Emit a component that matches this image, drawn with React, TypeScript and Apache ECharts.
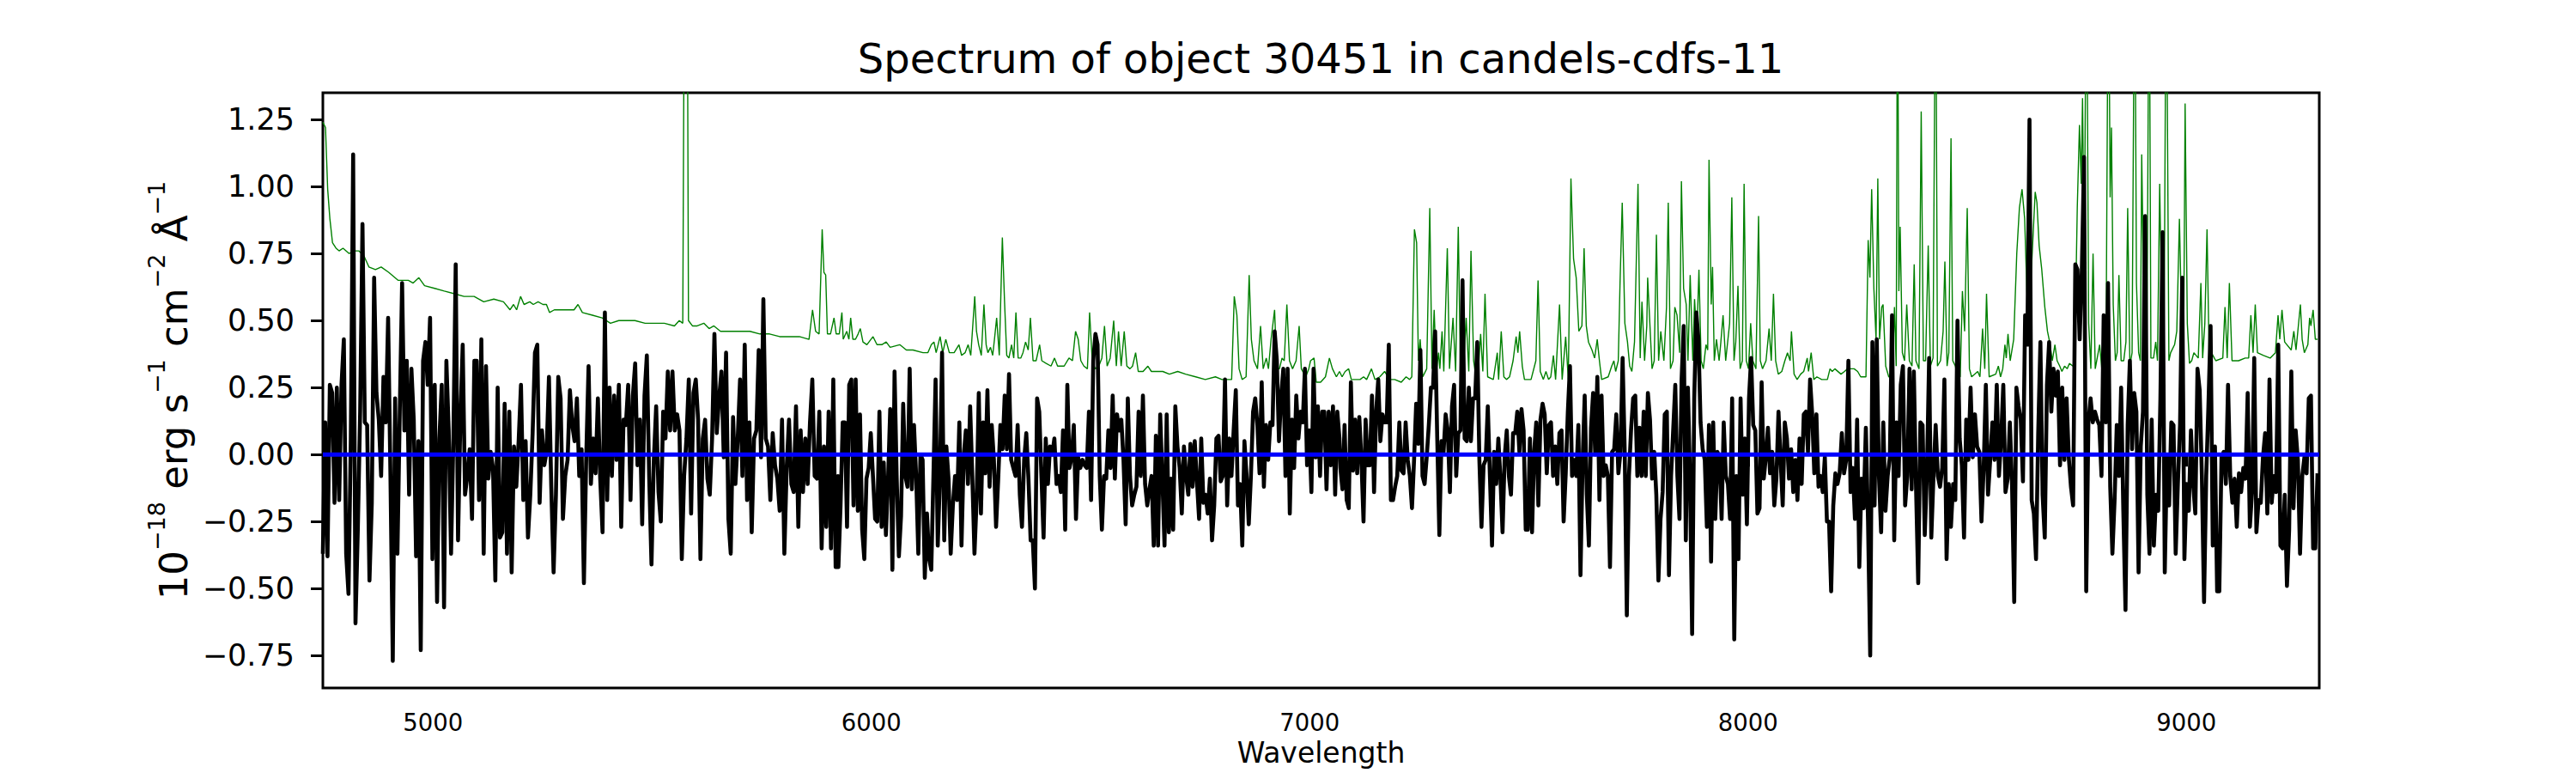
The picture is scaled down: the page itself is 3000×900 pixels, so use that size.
import React, { useEffect, useRef } from "react";
import * as echarts from "echarts";

const TITLE = "Spectrum of object 30451 in candels-cdfs-11";
const X_NAME = "Wavelength";
const X_MIN = 4749;
const X_MAX = 9303;
const Y_MIN = -0.871;
const Y_MAX = 1.35;
const X_TICKS = [5000, 6000, 7000, 8000, 9000];
const Y_TICKS = [-0.75, -0.5, -0.25, 0, 0.25, 0.5, 0.75, 1.0, 1.25];

// observed flux, four consecutive wavelength stretches
const fluxRangeA = [4749, 5924];
const fluxA = [-0.37,0.12,-0.38,0.26,0.23,-0.18,0.25,-0.17,0.26,0.43,-0.37,-0.52,0.06,1.12,-0.63,-0.28,0.16,0.86,0.12,0.11,-0.47,-0.18,0.66,0.23,0.13,-0.08,0.29,0.12,0.51,-0.08,-0.77,0.21,-0.37,0.16,0.64,0.09,0.35,-0.15,0.32,0.13,-0.38,0.05,-0.73,0.35,0.42,0.26,0.51,-0.39,0.26,-0.55,0.06,0.26,-0.57,0.35,0.09,-0.37,0.06,0.71,-0.32,0.13,0.41,-0.15,-0.08,0.02,-0.24,0.35,0.35,-0.17,0.43,-0.37,0.33,-0.09,0.01,-0.05,-0.47,0.25,-0.31,-0.29,0.19,-0.37,0.16,-0.44,0.03,-0.12,0.05,0.26,-0.17,0.05,-0.31,-0.15,0.08,0.38,0.41,-0.18,0.09,-0.04,0.01,0.29,-0.12,-0.44,-0.15,0.29,0.21,-0.24,-0.08,-0.02,0.24,0.11,0.05,0.21,-0.08,0.02,-0.48,-0.01,0.33,-0.11,0.06,-0.07,0.21,-0.09,-0.29,0.53,-0.17,0.25,-0.08,0.22,-0.02,0.26,-0.27,0.13,0.11,0.26,-0.17,0.22,0.34,-0.04,0.13,-0.26,0.22,0.37,-0.08,-0.41,-0.02,0.18,-0.14,-0.25,0.16,0.06,0.31,0.09,0.31,0.09,0.15,0.09,-0.39,-0.08,0.06,0.28,-0.22,0.23,0.28,0.13,-0.39,0.06,0.13,-0.09,-0.15,0.06,0.45,0.08,0.21,0.31,-0.01,0.38,-0.24,-0.37,0.14,-0.11,0.06,0.28,-0.08,0.41,-0.17,0.12,-0.29,0.06,0.09,0.39,-0.01,0.58,0.06,0.03,-0.17,0.08,-0.04,-0.09,-0.21,0.13,-0.37,-0.05,0.13,-0.11,-0.14,0.18,-0.27,0.09,-0.14,0.06,-0.11,0.12,0.28,-0.08,-0.09,0.16,-0.35,0.03,-0.27,0.16,-0.35,0.28,-0.42,-0.08];
const fluxRangeB = [5925, 7068];
const fluxB = [-0.42,-0.19,0.12,0.12,-0.27,0.26,0.28,-0.19,0.28,-0.21,0.15,-0.28,-0.39,-0.09,-0.05,0.08,-0.08,-0.24,-0.25,0.16,-0.27,-0.03,-0.30,-0.09,0.17,-0.43,0.31,-0.09,-0.38,-0.23,0.19,-0.08,-0.12,0.32,-0.13,0.11,-0.08,-0.37,0.00,-0.02,-0.46,-0.22,-0.39,-0.43,-0.08,0.28,-0.34,-0.09,0.38,-0.32,0.03,-0.09,-0.37,-0.19,-0.08,-0.17,0.12,-0.34,-0.01,0.09,-0.11,0.18,-0.08,-0.37,-0.17,0.23,-0.22,0.12,-0.07,0.24,-0.12,0.11,-0.02,-0.27,-0.09,0.11,0.02,0.22,0.02,0.30,-0.02,-0.05,-0.08,0.11,-0.15,-0.27,-0.02,0.08,-0.09,-0.32,-0.32,-0.50,0.21,0.16,-0.08,-0.31,0.06,-0.11,0.03,0.00,0.06,-0.11,-0.08,-0.14,0.09,-0.28,0.26,-0.05,-0.01,0.11,-0.24,-0.01,-0.05,-0.02,-0.04,-0.05,0.16,-0.17,0.35,0.45,0.41,-0.08,-0.28,-0.08,-0.09,0.09,-0.05,0.22,-0.09,0.15,0.09,0.13,-0.02,-0.26,0.21,-0.08,-0.19,-0.15,-0.12,0.16,-0.08,0.22,-0.11,-0.19,-0.13,-0.08,-0.34,0.07,-0.34,0.15,-0.09,-0.34,0.15,-0.29,-0.09,-0.28,0.18,0.03,-0.05,-0.22,0.03,-0.08,-0.15,0.04,-0.12,0.05,-0.10,-0.24,0.06,-0.18,-0.15,-0.22,-0.09,-0.32,-0.19,0.06,0.07,-0.10,-0.08,0.28,-0.19,0.06,-0.08,0.09,0.24,-0.19,-0.11,-0.34,0.05,-0.08,-0.26,-0.08,0.16,0.21,0.11,-0.07,0.27,-0.12,0.11,-0.02,0.12,0.11,0.46,0.35,0.05,0.22,0.32,-0.08,0.32,-0.22,0.13,-0.05,0.22,0.06,0.16,0.12,0.32,-0.04,0.09,-0.14,0.32,-0.01,0.18,-0.08,0.16,0.16,-0.13,0.16,-0.04,0.18,-0.15,0.16,0.06];
const fluxRangeC = [7070, 8204];
const fluxC = [-0.05,-0.13,0.11,-0.17,-0.20,0.27,-0.06,0.13,-0.07,0.14,-0.02,-0.25,0.13,-0.04,-0.04,0.22,-0.14,0.16,0.28,0.05,0.15,0.12,0.12,0.41,-0.17,-0.17,-0.12,-0.08,0.12,-0.06,-0.07,0.12,-0.02,-0.08,-0.20,-0.02,0.19,0.04,0.39,-0.08,-0.11,-0.01,0.11,0.25,0.25,0.46,0.06,-0.30,0.05,0.01,0.15,0.09,-0.14,0.18,0.26,-0.08,0.08,0.09,0.65,0.06,0.05,0.25,0.05,0.21,0.21,0.42,-0.02,-0.27,-0.04,-0.02,0.18,-0.08,-0.34,0.01,-0.11,0.06,-0.09,-0.29,-0.01,0.09,-0.08,-0.15,0.08,0.08,0.16,0.01,0.17,0.09,-0.28,-0.28,0.06,-0.29,0.01,0.12,-0.19,0.13,0.19,0.15,-0.07,0.11,0.12,-0.08,0.03,-0.11,0.08,0.09,-0.25,-0.07,0.16,0.33,-0.08,-0.02,-0.08,0.11,-0.45,-0.03,0.22,-0.15,-0.34,0.10,0.23,0.00,0.29,-0.17,0.22,-0.08,-0.04,-0.08,-0.42,0.01,0.02,0.15,-0.07,0.01,0.36,0.01,-0.60,-0.08,0.09,0.21,0.22,-0.08,0.10,-0.08,0.16,-0.08,0.23,0.13,-0.09,0.01,-0.15,-0.47,-0.24,-0.14,0.15,0.16,-0.45,-0.08,0.09,0.26,-0.08,-0.24,0.28,0.48,-0.32,0.25,-0.09,-0.67,0.21,0.53,0.43,0.12,0.02,-0.02,-0.27,0.11,-0.40,0.12,-0.24,0.01,-0.01,-0.24,0.12,-0.08,-0.11,-0.24,0.21,-0.69,-0.08,-0.39,0.21,-0.15,0.06,-0.26,0.21,0.36,0.11,0.09,-0.22,-0.20,0.27,-0.09,-0.01,0.10,-0.07,0.01,-0.19,-0.09,0.16,-0.02,-0.19,0.12,0.06,-0.09,0.02,-0.14,-0.02,-0.17,0.06,-0.11,0.15,0.16,0.01,0.28,0.15,-0.07,0.15,-0.12,-0.08,-0.14,-0.01,-0.25,-0.25,-0.51,-0.19,-0.07,-0.11];
const fluxRangeD = [8209, 9299];
const fluxD = [-0.07,0.08,-0.07,-0.02,0.35,-0.14,-0.05,-0.24,0.13,-0.42,-0.09,-0.20,0.10,-0.25,-0.75,0.42,-0.19,0.43,-0.08,-0.29,0.12,-0.21,-0.08,-0.01,0.52,-0.32,0.12,-0.08,0.26,0.33,-0.19,-0.08,0.32,-0.13,0.31,-0.12,-0.48,0.12,0.11,-0.30,-0.07,0.36,-0.31,-0.08,0.11,-0.08,-0.12,-0.05,0.28,-0.39,-0.11,-0.27,-0.11,-0.17,0.50,0.06,-0.04,-0.31,0.13,-0.02,0.25,-0.01,0.15,0.03,0.01,-0.25,-0.05,0.26,-0.15,-0.02,0.12,-0.02,0.26,-0.08,0.06,0.26,-0.14,-0.09,0.12,-0.11,-0.55,0.25,0.18,0.13,-0.10,0.52,0.41,1.25,-0.17,-0.22,-0.39,0.08,0.42,-0.15,-0.31,0.26,0.42,0.16,0.32,0.22,0.31,-0.04,0.25,-0.02,0.21,-0.01,-0.12,-0.19,0.71,0.69,0.43,0.69,1.11,-0.51,0.12,0.21,0.12,0.16,0.13,0.11,-0.08,0.52,0.12,0.64,-0.12,-0.37,-0.17,0.11,-0.08,0.25,-0.21,-0.58,0.11,0.35,0.02,0.23,0.16,-0.44,0.03,0.16,0.89,-0.15,-0.37,0.13,-0.34,-0.15,-0.21,0.21,0.83,-0.44,-0.01,-0.19,0.12,0.11,-0.37,-0.11,0.11,0.66,-0.39,-0.11,-0.21,0.09,-0.11,-0.22,0.32,0.24,-0.08,-0.55,-0.08,0.18,0.48,-0.34,0.03,-0.51,-0.51,-0.01,0.01,-0.11,0.26,-0.08,-0.18,-0.09,-0.27,-0.07,-0.14,-0.05,-0.09,0.23,-0.27,-0.14,0.36,-0.29,-0.17,-0.18,-0.01,0.08,-0.22,0.28,-0.18,-0.08,-0.14,0.41,-0.34,-0.35,-0.15,-0.49,-0.28,0.31,-0.20,0.09,-0.02,-0.37,-0.08,-0.01,-0.07,0.21,0.22,-0.35,-0.35,-0.07];

// noise / sky spectrum (green), [wavelength, value]
const noiseA = [[4749,1.24],[4755,1.22],[4760,0.99],[4765,0.88],[4771,0.79],[4779,0.77],[4786,0.76],[4795,0.77],[4809,0.75],[4820,0.76],[4831,0.76],[4843,0.74],[4854,0.70],[4869,0.69],[4882,0.70],[4899,0.68],[4921,0.65],[4944,0.65],[4955,0.64],[4968,0.66],[4981,0.63],[5004,0.62],[5026,0.61],[5049,0.60],[5071,0.59],[5094,0.59],[5116,0.57],[5139,0.58],[5161,0.57],[5176,0.54],[5184,0.56],[5191,0.54],[5200,0.59],[5208,0.56],[5221,0.57],[5229,0.56],[5240,0.57],[5251,0.56],[5259,0.56],[5266,0.53],[5277,0.54],[5289,0.54],[5307,0.54],[5322,0.54],[5331,0.56],[5341,0.53],[5364,0.52],[5386,0.51],[5405,0.49],[5424,0.50],[5439,0.50],[5461,0.50],[5484,0.49],[5506,0.49],[5528,0.49],[5551,0.48],[5562,0.50],[5570,0.49],[5574,2.0],[5580,2.0],[5583,0.50],[5592,0.48],[5603,0.48],[5618,0.49],[5630,0.47],[5641,0.48],[5656,0.46],[5678,0.46],[5701,0.46],[5723,0.46],[5746,0.45],[5768,0.45],[5791,0.44],[5813,0.44],[5836,0.44],[5858,0.43],[5866,0.54],[5873,0.46],[5881,0.45],[5888,0.84],[5892,0.68],[5896,0.67],[5900,0.45],[5907,0.45],[5915,0.51],[5920,0.45]];
const noiseB = [[5927,0.45],[5933,0.53],[5936,0.43],[5944,0.46],[5949,0.43],[5953,0.51],[5958,0.43],[5964,0.43],[5970,0.45],[5975,0.47],[5981,0.42],[5990,0.41],[6004,0.44],[6013,0.41],[6024,0.41],[6034,0.42],[6043,0.40],[6065,0.41],[6080,0.39],[6095,0.39],[6118,0.38],[6129,0.38],[6137,0.41],[6143,0.42],[6148,0.38],[6157,0.44],[6163,0.38],[6170,0.43],[6178,0.38],[6189,0.38],[6200,0.41],[6206,0.37],[6214,0.38],[6221,0.41],[6227,0.37],[6236,0.59],[6240,0.46],[6245,0.41],[6251,0.37],[6257,0.56],[6262,0.41],[6266,0.38],[6272,0.40],[6277,0.37],[6281,0.43],[6286,0.51],[6292,0.37],[6299,0.81],[6304,0.57],[6309,0.37],[6314,0.36],[6320,0.41],[6325,0.36],[6330,0.53],[6335,0.36],[6341,0.36],[6346,0.38],[6352,0.42],[6358,0.39],[6363,0.51],[6369,0.35],[6376,0.35],[6384,0.41],[6389,0.35],[6399,0.34],[6410,0.33],[6418,0.36],[6425,0.33],[6440,0.33],[6451,0.36],[6459,0.35],[6466,0.46],[6472,0.43],[6478,0.35],[6485,0.33],[6493,0.32],[6498,0.53],[6504,0.35],[6511,0.32],[6519,0.33],[6526,0.36],[6532,0.48],[6538,0.33],[6545,0.36],[6553,0.50],[6559,0.33],[6564,0.46],[6570,0.33],[6577,0.46],[6583,0.33],[6590,0.32],[6596,0.33],[6603,0.38],[6609,0.31],[6620,0.31],[6631,0.33],[6639,0.31],[6650,0.31],[6665,0.31],[6680,0.30],[6699,0.31],[6717,0.30],[6740,0.29],[6762,0.28],[6785,0.29],[6800,0.28],[6822,0.28],[6828,0.59],[6834,0.52],[6839,0.32],[6846,0.28],[6855,0.29],[6862,0.67],[6867,0.43],[6873,0.35],[6881,0.32],[6888,0.48],[6894,0.32],[6901,0.36],[6906,0.32],[6912,0.43],[6920,0.54],[6925,0.32],[6931,0.32],[6937,0.36],[6942,0.35],[6948,0.56],[6954,0.35],[6961,0.32],[6969,0.35],[6976,0.48],[6981,0.32],[6991,0.29],[6998,0.32],[7002,0.35],[7010,0.36],[7015,0.27],[7025,0.27],[7036,0.29],[7045,0.36],[7052,0.32],[7061,0.29],[7068,0.31]];
const noiseC = [[7074,0.29],[7081,0.31],[7089,0.32],[7095,0.28],[7104,0.28],[7115,0.28],[7123,0.29],[7130,0.28],[7141,0.32],[7149,0.28],[7160,0.29],[7171,0.31],[7183,0.28],[7194,0.28],[7209,0.27],[7220,0.29],[7228,0.28],[7233,0.29],[7239,0.84],[7244,0.79],[7248,0.35],[7252,0.43],[7258,0.29],[7267,0.32],[7274,0.92],[7279,0.32],[7284,0.54],[7289,0.31],[7294,0.38],[7297,0.32],[7302,0.46],[7306,0.31],[7314,0.77],[7319,0.32],[7327,0.51],[7333,0.31],[7339,0.85],[7344,0.31],[7351,0.32],[7357,0.51],[7363,0.31],[7368,0.76],[7374,0.35],[7380,0.28],[7385,0.32],[7390,0.45],[7395,0.31],[7400,0.60],[7406,0.29],[7419,0.28],[7428,0.38],[7431,0.28],[7437,0.46],[7443,0.29],[7449,0.28],[7456,0.29],[7464,0.35],[7471,0.44],[7475,0.38],[7479,0.46],[7485,0.33],[7490,0.28],[7505,0.28],[7516,0.35],[7521,0.65],[7526,0.31],[7533,0.28],[7539,0.31],[7545,0.28],[7550,0.29],[7556,0.37],[7561,0.28],[7570,0.56],[7576,0.28],[7584,0.44],[7590,0.28],[7596,1.03],[7602,0.73],[7608,0.66],[7614,0.46],[7621,0.48],[7626,0.77],[7631,0.48],[7636,0.42],[7644,0.39],[7650,0.36],[7656,0.43],[7661,0.35],[7666,0.28],[7681,0.29],[7689,0.33],[7694,0.35],[7698,0.31],[7704,0.35],[7708,0.64],[7713,0.94],[7719,0.49],[7725,0.42],[7730,0.33],[7735,0.31],[7741,0.42],[7749,1.01],[7754,0.36],[7758,0.57],[7764,0.35],[7769,0.48],[7771,0.66],[7776,0.49],[7781,0.32],[7786,0.35],[7791,0.82],[7796,0.35],[7801,0.46],[7808,0.35],[7814,0.55],[7818,0.94],[7823,0.32],[7829,0.35],[7833,0.55],[7838,0.52],[7844,0.38],[7848,1.02],[7853,0.62],[7859,0.56],[7863,0.35],[7868,0.67],[7874,0.35],[7878,0.58],[7883,0.43],[7888,0.69],[7893,0.35],[7898,0.32],[7904,0.41],[7908,0.39],[7911,1.10],[7916,0.56],[7919,0.70],[7923,0.35],[7928,0.43],[7934,0.35],[7938,0.42],[7943,0.52],[7949,0.35],[7958,0.49],[7963,0.96],[7968,0.35],[7972,0.42],[7977,0.63],[7982,0.32],[7987,0.35],[7991,1.01],[7996,0.35],[8001,0.32],[8006,0.49],[8011,0.35],[8018,0.32],[8024,0.89],[8028,0.35],[8033,0.32],[8041,0.35],[8048,0.47],[8053,0.35],[8058,0.60],[8063,0.35],[8069,0.30],[8077,0.31],[8084,0.35],[8090,0.38],[8096,0.35],[8099,0.46],[8105,0.30],[8112,0.28],[8120,0.30],[8127,0.31],[8135,0.36],[8138,0.31],[8144,0.38],[8150,0.28],[8157,0.29],[8168,0.28],[8181,0.28],[8187,0.32],[8192,0.31],[8198,0.32]];
const noiseD = [[8212,0.30],[8220,0.31],[8227,0.32],[8235,0.32],[8242,0.32],[8250,0.31],[8257,0.29],[8269,0.29],[8274,0.80],[8278,0.66],[8282,0.99],[8287,0.62],[8292,0.43],[8296,1.03],[8300,0.43],[8305,0.55],[8308,0.56],[8314,0.33],[8321,0.29],[8329,0.29],[8334,0.55],[8338,0.33],[8341,2.0],[8344,0.61],[8347,0.85],[8352,0.38],[8357,0.35],[8362,0.56],[8368,0.35],[8374,0.33],[8379,0.71],[8383,0.35],[8390,0.32],[8395,1.28],[8400,0.35],[8405,0.35],[8411,0.78],[8416,0.33],[8422,0.36],[8428,2.0],[8432,0.33],[8439,0.35],[8445,0.46],[8449,0.72],[8454,0.33],[8458,0.38],[8463,1.18],[8467,0.35],[8473,0.33],[8478,0.29],[8484,0.29],[8489,0.61],[8494,0.46],[8500,0.92],[8505,0.32],[8510,0.29],[8524,0.31],[8529,0.29],[8535,0.47],[8540,0.32],[8544,0.60],[8550,0.29],[8565,0.30],[8571,0.33],[8576,0.29],[8581,0.32],[8586,0.41],[8589,0.36],[8593,0.45],[8598,0.35],[8606,0.43],[8613,0.75],[8619,0.92],[8625,0.99],[8631,0.88],[8636,0.61],[8640,0.52],[8647,0.71],[8655,0.98],[8659,0.94],[8664,0.78],[8670,0.69],[8677,0.55],[8683,0.46],[8688,0.42],[8694,0.35],[8700,0.41],[8705,0.35],[8711,0.33],[8716,0.31],[8722,0.33],[8728,0.32],[8733,0.34],[8741,0.33],[8745,0.35],[8751,0.92],[8756,1.23],[8760,1.01],[8763,1.33],[8767,0.71],[8772,2.0],[8777,0.49],[8782,0.32],[8787,0.75],[8792,0.32],[8802,0.41],[8807,0.32],[8812,0.32],[8817,0.49],[8822,2.0],[8826,0.96],[8829,1.22],[8833,0.56],[8838,0.35],[8842,0.38],[8846,0.67],[8851,0.35],[8857,0.35],[8862,0.42],[8866,0.92],[8871,0.33],[8876,0.38],[8882,2.0],[8886,0.64],[8891,0.38],[8895,0.35],[8898,1.12],[8904,0.42],[8910,0.42],[8915,2.0],[8919,0.36],[8925,0.36],[8930,0.42],[8934,0.35],[8939,1.01],[8944,0.49],[8949,0.42],[8954,2.0],[8960,0.35],[8964,0.38],[8973,0.41],[8978,0.46],[8984,0.88],[8990,0.42],[8994,0.49],[8997,1.31],[9002,0.49],[9007,0.34],[9012,0.35],[9017,0.38],[9027,0.36],[9033,0.64],[9037,0.36],[9042,0.49],[9047,0.84],[9052,0.35],[9057,0.38],[9067,0.35],[9083,0.36],[9088,0.55],[9093,0.36],[9098,0.64],[9104,0.35],[9119,0.35],[9134,0.36],[9142,0.36],[9147,0.52],[9152,0.38],[9157,0.56],[9162,0.38],[9176,0.37],[9191,0.36],[9203,0.38],[9209,0.52],[9213,0.43],[9218,0.54],[9224,0.42],[9239,0.39],[9245,0.46],[9250,0.39],[9260,0.56],[9264,0.43],[9269,0.38],[9277,0.41],[9281,0.51],[9284,0.48],[9289,0.54],[9294,0.43],[9299,0.43]];

// model / zero level (blue)
const modelLine = [[4749, 0], [9303, 0]];

function spread(values: number[], range: number[]) {
  const n = values.length;
  return values.map((v, i) => [range[0] + ((range[1] - range[0]) * i) / (n - 1), v]);
}

const FONT = "DejaVu Sans";

export default function App() {
  const ref = useRef<HTMLDivElement>(null);
  useEffect(() => {
    if (!ref.current) return;
    const chart = echarts.init(ref.current, null, { renderer: "svg" });
    const flux = [
      ...spread(fluxA, fluxRangeA),
      ...spread(fluxB, fluxRangeB),
      ...spread(fluxC, fluxRangeC),
      ...spread(fluxD, fluxRangeD),
    ];
    const noise = [...noiseA, ...noiseB, ...noiseC, ...noiseD];
    const fmtY = (v: number) => (v < 0 ? "\u2212" + (-v).toFixed(2) : v.toFixed(2));
    chart.setOption({
      animation: false,
      backgroundColor: "#ffffff",
      textStyle: { fontFamily: FONT, color: "#000" },
      title: {
        text: TITLE,
        left: 1538,
        textAlign: "center",
        top: 44,
        padding: 0,
        textStyle: { fontSize: 48, fontWeight: "normal", fontFamily: FONT, color: "#000" },
      },
      grid: {
        left: 376,
        right: 299,
        top: 108,
        bottom: 99,
        show: true,
        borderColor: "#000",
        borderWidth: 3,
        backgroundColor: "transparent",
      },
      xAxis: {
        type: "value",
        min: X_MIN,
        max: X_MAX,
        name: X_NAME,
        nameLocation: "middle",
        nameGap: 58,
        nameTextStyle: { fontSize: 33, fontFamily: FONT, color: "#000" },
        axisLine: { show: false },
        splitLine: { show: false },
        axisTick: { show: true, length: 14, lineStyle: { color: "#000", width: 3 }, customValues: X_TICKS },
        axisLabel: {
          fontSize: 27.5,
          fontFamily: FONT,
          color: "#000",
          margin: 26,
          customValues: X_TICKS,
          formatter: (v: number) => String(v),
        },
      },
      yAxis: {
        type: "value",
        min: Y_MIN,
        max: Y_MAX,
        name: "{m|10}{s|\u221218}{m| erg s}{s|\u22121}{m| cm}{s|\u22122}{m| \u00c5}{s|\u22121}",
        nameLocation: "middle",
        nameRotate: 90,
        nameGap: 150,
        nameTextStyle: {
          fontFamily: FONT,
          color: "#000",
          rich: {
            m: { fontSize: 45, lineHeight: 56, verticalAlign: "bottom", fontFamily: FONT, color: "#000" },
            s: { fontSize: 27, lineHeight: 20, verticalAlign: "top", fontFamily: FONT, color: "#000" },
          },
        },
        axisLine: { show: false },
        splitLine: { show: false },
        axisTick: { show: true, length: 14, lineStyle: { color: "#000", width: 3 }, customValues: Y_TICKS },
        axisLabel: {
          fontSize: 35,
          fontFamily: FONT,
          color: "#000",
          margin: 33,
          customValues: Y_TICKS,
          formatter: fmtY,
        },
      },
      series: [
        {
          type: "line",
          data: noise,
          showSymbol: false,
          symbol: "none",
          silent: true,
          lineStyle: { color: "#008000", width: 1.4 },
        },
        {
          type: "line",
          data: flux,
          showSymbol: false,
          symbol: "none",
          silent: true,
          lineStyle: { color: "#000000", width: 4.6, join: "round" },
        },
        {
          type: "line",
          data: modelLine,
          showSymbol: false,
          symbol: "none",
          silent: true,
          lineStyle: { color: "#0000ff", width: 5 },
        },
      ],
    });
    return () => chart.dispose();
  }, []);
  return (
    <div
      ref={ref}
      style={{ position: "absolute", left: 0, top: 0, width: 3000, height: 900, background: "#fff" }}
    />
  );
}
